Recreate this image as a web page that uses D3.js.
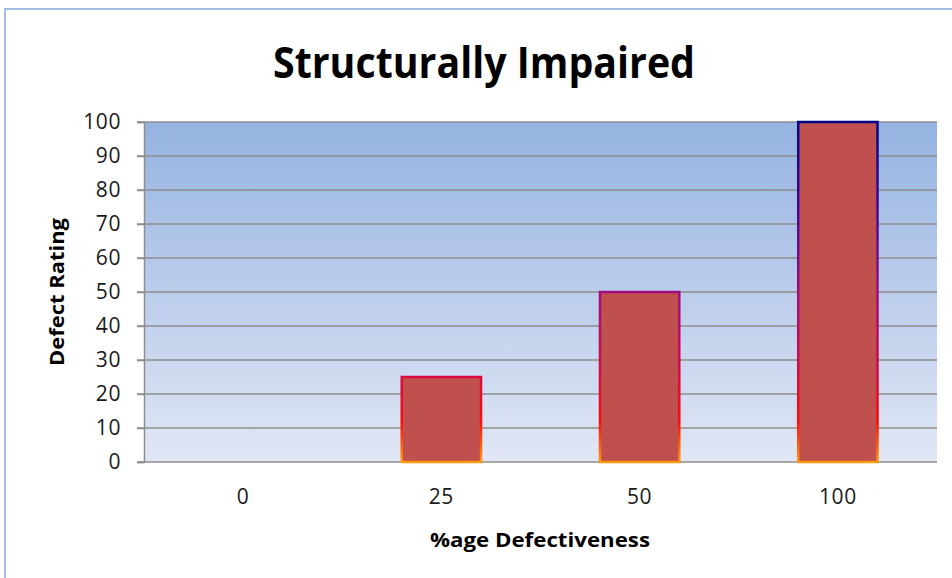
<!DOCTYPE html>
<html>
<head>
<meta charset="utf-8">
<script src="https://cdn.jsdelivr.net/npm/d3@7/dist/d3.min.js"></script>
<style>
  html, body { margin: 0; padding: 0; background: #fff; }
  svg { display: block; }
  text { font-family: "Open Sans", "Noto Sans", sans-serif; }
</style>
</head>
<body>
<svg id="chart" width="952" height="578"></svg>
<script>
// Chart data
const categories = ["0", "25", "50", "100"];
const ratings = [0, 25, 50, 100];
const yTicks = [0, 10, 20, 30, 40, 50, 60, 70, 80, 90, 100];
const titleText = "Structurally Impaired";
const xTitle = "%age Defectiveness";
const yTitle = "Defect Rating";

const svg = d3.select("#chart");
const W = 952, H = 578;
const plot = { left: 144, right: 937, top: 122, bottom: 462 };

const defs = svg.append("defs");

// plot area background: blue fading to pale
const bg = defs.append("linearGradient")
  .attr("id", "plotBg").attr("x1", 0).attr("y1", 0).attr("x2", 0).attr("y2", 1);
bg.append("stop").attr("offset", "0%").attr("stop-color", "#95b3e1");
bg.append("stop").attr("offset", "100%").attr("stop-color", "#e1e7f5");

// bar outline: navy at the top of the value range through magenta and red to orange
const edge = defs.append("linearGradient")
  .attr("id", "barEdge").attr("gradientUnits", "userSpaceOnUse")
  .attr("x1", 0).attr("y1", plot.top).attr("x2", 0).attr("y2", plot.bottom);
[["0%", "#00008c"], ["28%", "#4a0a9a"], ["50%", "#9e0c80"], ["72%", "#d20a4c"],
 ["88%", "#ff0a0a"], ["100%", "#ff9a10"]].forEach(([o, c]) =>
  edge.append("stop").attr("offset", o).attr("stop-color", c));

// chart frame
svg.append("rect")
  .attr("x", 5).attr("y", 9).attr("width", W + 20).attr("height", H + 20)
  .attr("fill", "#fff").attr("stroke", "#a6bde2").attr("stroke-width", 2);

const x = d3.scaleBand().domain(categories).range([plot.left, plot.right])
  .paddingInner(0.6).paddingOuter(0.3);
const y = d3.scaleLinear().domain([0, 100]).range([plot.bottom, plot.top]);

svg.append("rect")
  .attr("x", plot.left).attr("y", plot.top)
  .attr("width", plot.right - plot.left).attr("height", plot.bottom - plot.top)
  .attr("fill", "url(#plotBg)");

// gridlines
svg.append("g").selectAll("line").data(yTicks).join("line")
  .attr("x1", plot.left - 7).attr("x2", plot.right)
  .attr("y1", d => y(d)).attr("y2", d => y(d))
  .attr("stroke", "#8e8e8e").attr("stroke-width", 1.5);

// y axis
const yAxis = svg.append("g")
  .attr("transform", `translate(${plot.left},0)`)
  .call(d3.axisLeft(y).tickValues(yTicks).tickSize(7).tickPadding(16));
yAxis.select(".domain").attr("stroke", "#8e8e8e").attr("stroke-width", 1.5);
yAxis.selectAll(".tick line").attr("stroke", "#8e8e8e").attr("stroke-width", 1.5);
yAxis.selectAll("text").attr("font-size", 21).attr("fill", "#1a1a1a")
  .attr("font-family", "'Open Sans', sans-serif").attr("letter-spacing", 0.6);

// x axis
const xAxis = svg.append("g")
  .attr("transform", `translate(0,${plot.bottom})`)
  .call(d3.axisBottom(x).tickSize(0).tickPadding(27));
xAxis.select(".domain").remove();
xAxis.selectAll("text").attr("font-size", 21).attr("fill", "#1a1a1a")
  .attr("font-family", "'Open Sans', sans-serif").attr("letter-spacing", 0.6);

// bars
svg.append("g").selectAll("rect").data(ratings).join("rect")
  .attr("x", (d, i) => x(categories[i]))
  .attr("width", x.bandwidth())
  .attr("y", d => y(d))
  .attr("height", d => y(0) - y(d))
  .attr("fill", "#c0504d")
  .attr("stroke", "url(#barEdge)").attr("stroke-width", 2.5);

// title
svg.append("text")
  .attr("x", 484).attr("y", 78).attr("text-anchor", "middle")
  .attr("font-size", 43).attr("font-weight", 700).attr("fill", "#000")
  .attr("textLength", 422).attr("lengthAdjust", "spacingAndGlyphs")
  .text(titleText);

// axis titles
svg.append("text")
  .attr("x", 540).attr("y", 547).attr("text-anchor", "middle")
  .attr("font-size", 20).attr("font-weight", 700).attr("fill", "#000")
  .attr("textLength", 220).attr("lengthAdjust", "spacingAndGlyphs")
  .text(xTitle);

svg.append("text")
  .attr("transform", "translate(64,292) rotate(-90)")
  .attr("text-anchor", "middle")
  .attr("font-size", 20).attr("font-weight", 700).attr("fill", "#000")
  .attr("textLength", 148).attr("lengthAdjust", "spacingAndGlyphs")
  .text(yTitle);
</script>
</body>
</html>
